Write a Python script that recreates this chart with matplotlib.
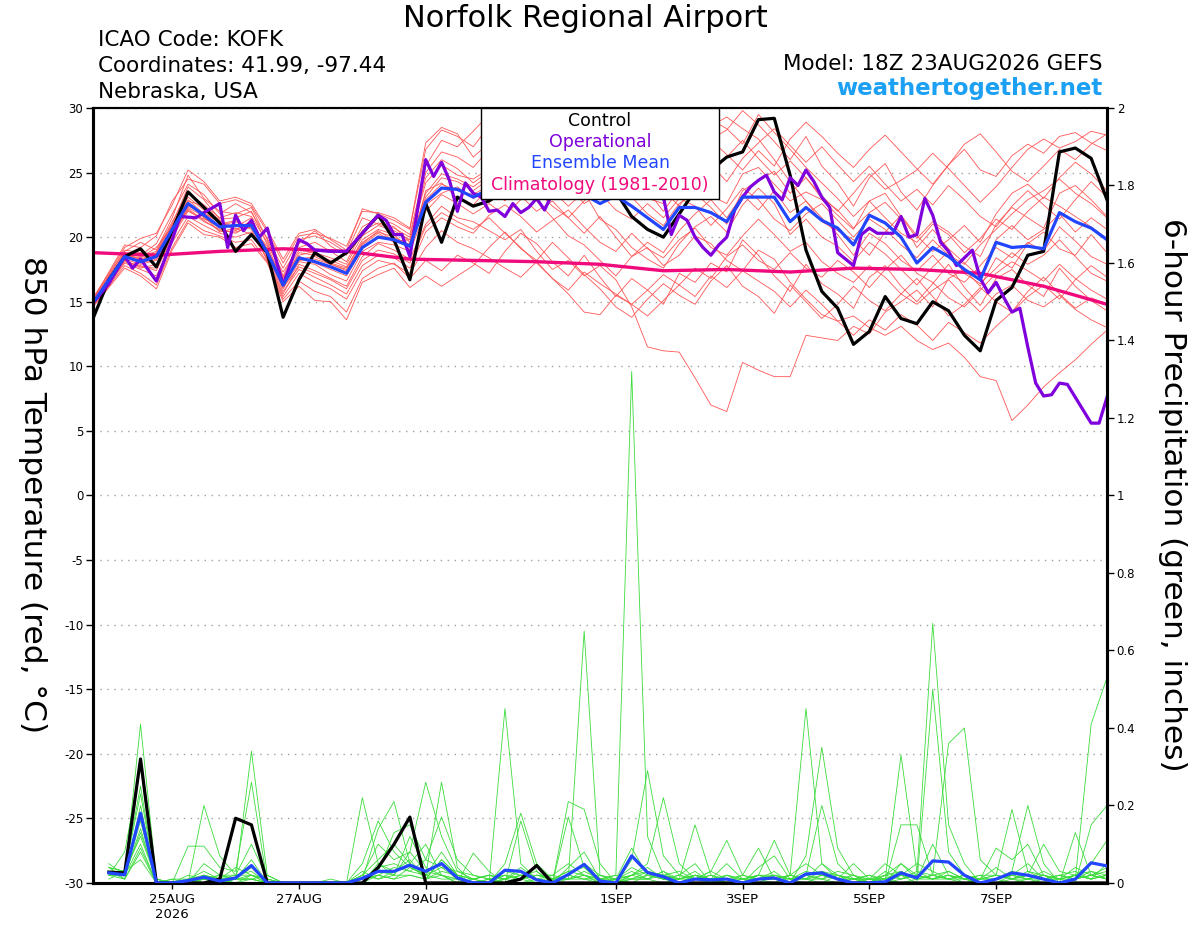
import numpy as np
import pandas as pd
import matplotlib
matplotlib.use("Agg")
import matplotlib.pyplot as plt
from matplotlib.patches import Rectangle
from matplotlib.ticker import FormatStrFormatter

plt.rcParams["font.family"] = ["DejaVu Sans"]
plt.rcParams["axes.unicode_minus"] = False


# --------------------------------------------------
# 1. Time axis: GEFS 18Z 23AUG2026, 6-hourly to 384 h
# --------------------------------------------------
start = pd.Timestamp("2026-08-23 18:00")
times = pd.date_range(start, periods=65, freq="6h")

tick_dates = ["2026-08-25", "2026-08-27", "2026-08-29", "2026-09-01",
              "2026-09-03", "2026-09-05", "2026-09-07"]
tick_labels = ["25AUG\n2026", "27AUG", "29AUG", "1SEP", "3SEP", "5SEP", "7SEP"]


# --------------------------------------------------
# 2. 850 hPa temperature (deg C)
# --------------------------------------------------
control_temp = [
    13.7, 16.7, 18.5, 19.1, 17.7, 20.5, 23.5, 22.3, 21.1, 18.9, 20.2, 18.8,
    13.8, 16.7, 18.8, 18.0, 18.8, 20.3, 21.7, 19.8, 16.7, 22.6, 19.6, 23.1,
    22.4, 22.8, 23.6, 24.2, 24.6, 24.9, 25.3, 24.8, 24.3, 23.5, 21.6, 20.6,
    20.0, 21.8, 23.6, 25.2, 26.2, 26.6, 29.1, 29.2, 24.8, 19.0, 15.8, 14.5,
    11.7, 12.7, 15.4, 13.7, 13.3, 15.0, 14.3, 12.4, 11.2, 15.1, 16.1, 18.6,
    18.9, 26.6, 26.9, 26.1, 22.9]

mean_temp = [
    14.9, 16.7, 18.5, 18.1, 18.5, 20.6, 22.6, 21.7, 20.8, 20.9, 20.9, 18.8,
    16.3, 18.4, 18.1, 17.7, 17.2, 19.2, 20.0, 19.8, 19.3, 22.7, 23.8, 23.7,
    23.1, 23.7, 23.9, 24.2, 24.0, 23.8, 23.5, 23.3, 22.6, 23.2, 22.4, 21.5,
    20.6, 22.3, 22.3, 21.9, 21.2, 23.1, 23.1, 23.1, 21.2, 22.3, 21.3, 20.7,
    19.4, 21.7, 21.1, 20.0, 18.0, 19.2, 18.5, 17.5, 16.7, 19.6, 19.2, 19.3,
    19.1, 21.9, 21.2, 20.7, 19.8]

# operational GFS, 3-hourly where the line shows it
op_hours = [
    0, 6, 12, 15, 18, 24, 30, 33, 39, 42, 48, 51, 54, 57, 60, 63, 66, 72, 78,
    81, 84, 90, 96, 102, 108, 111, 114, 117, 120, 126, 129, 132, 135, 138,
    141, 144, 147, 150, 153, 156, 159, 162, 165, 168, 171, 174, 177, 180,
    183, 186, 189, 192, 195, 198, 201, 204, 207, 210, 213, 216, 219, 222,
    225, 228, 231, 234, 237, 240, 243, 246, 249, 252, 255, 258, 261, 264,
    267, 270, 273, 276, 279, 282, 285, 288, 291, 294, 297, 300, 303, 306,
    309, 312, 315, 318, 321, 324, 327, 330, 333, 336, 339, 342, 345, 348,
    351, 354, 357, 360, 363, 366, 369, 372, 375, 378, 381, 384]
op_temp = [
    14.9, 16.4, 18.5, 17.6, 18.3, 16.6, 19.8, 21.6, 21.5, 21.9, 22.6, 19.2,
    21.7, 20.5, 21.3, 20.0, 20.7, 16.3, 19.8, 19.5, 19.0, 18.9, 18.9, 20.3,
    21.7, 21.3, 20.2, 20.2, 18.5, 26.0, 24.7, 25.8, 24.4, 22.0,
    24.2, 23.4, 23.1, 22.0, 22.1, 21.6, 22.6, 21.9, 22.3, 23.0, 22.1, 23.4,
    24.0, 24.6, 24.1, 24.5, 25.0, 24.6, 24.2, 24.5, 24.0, 23.6, 24.1, 24.5,
    24.0, 23.1, 20.2, 21.7, 21.3, 20.0, 19.2, 18.6, 19.4, 20.0, 22.1, 23.1,
    23.9, 24.4, 24.8, 23.5, 22.9, 24.6, 24.0, 25.2, 24.3, 23.1, 22.3, 18.8,
    18.3, 17.8, 20.2, 20.7, 20.3, 20.3, 20.3, 21.6, 20.0, 20.2, 23.0, 21.7,
    19.6, 18.9, 17.8, 18.4, 19.0, 16.8, 15.7, 16.5, 15.3, 14.2, 14.5, 11.5,
    8.7, 7.7, 7.8, 8.7, 8.6, 7.6, 6.6, 5.6, 5.6, 7.6]

# climatology, one value per day
clim_temp = [18.8, 18.6, 18.9, 19.1, 18.9, 18.3, 18.2, 18.1, 17.9,
             17.4, 17.5, 17.3, 17.6, 17.5, 17.2, 16.2, 14.8]

t01 = [15.2, 17.0, 18.9, 19.6, 19.0, 21.5, 24.8, 23.0, 22.0, 21.8, 22.3, 19.8,
       17.0, 19.5, 20.5, 19.3, 18.6, 20.8, 21.5, 21.0, 20.2, 25.5, 27.5, 27.0,
       28.2, 29.5, 30.4, 29.0, 28.5, 27.3, 28.0, 26.5, 25.8, 26.9, 24.5, 23.0,
       22.6, 24.8, 26.5, 27.6, 28.3, 29.8, 28.7, 27.4, 26.0, 27.8, 25.5, 24.2,
       22.4, 24.6, 25.7, 23.5, 22.1, 24.0, 25.6, 26.8, 25.2, 24.7, 26.3, 27.2,
       26.5, 27.8, 28.1, 27.3, 26.7]
t02 = [14.7, 16.4, 18.1, 17.8, 17.4, 20.0, 22.0, 21.4, 20.9, 21.2, 20.6, 18.2,
       15.6, 17.9, 17.4, 16.8, 16.2, 18.5, 19.5, 19.0, 18.3, 21.0, 22.4, 21.5,
       21.2, 20.5, 19.8, 20.6, 18.9, 17.5, 18.2, 17.0, 17.8, 16.7, 14.6, 11.5,
       11.2, 11.1, 9.1, 7.0, 6.5, 10.3, 9.7, 9.2, 9.2, 12.4, 12.2, 12.0,
       13.1, 12.5, 14.2, 15.0, 15.9, 14.6, 16.8, 17.5, 16.2, 18.4, 17.6, 19.5,
       20.4, 19.1, 18.6, 20.2, 18.8]
t03 = [15.0, 16.9, 18.6, 18.4, 19.2, 20.8, 22.9, 21.8, 21.2, 20.5, 21.3, 19.0,
       16.8, 18.6, 18.9, 18.0, 17.6, 19.8, 20.6, 20.2, 19.0, 23.6, 24.2, 23.0,
       22.5, 23.8, 24.6, 23.2, 22.0, 22.8, 21.5, 20.3, 21.6, 20.0, 18.5, 19.2,
       17.8, 18.6, 20.1, 19.5, 18.2, 17.4, 19.0, 18.3, 16.5, 15.2, 14.0, 13.5,
       13.9, 13.0, 12.4, 13.1, 12.0, 11.3, 11.8, 10.7, 9.2, 8.9, 5.8, 7.0,
       8.4, 9.5, 10.5, 11.7, 12.8]
t04 = [15.1, 16.8, 18.7, 18.5, 18.9, 21.2, 23.4, 22.5, 21.5, 21.9, 21.6, 19.6,
       16.9, 19.0, 18.8, 18.4, 17.9, 20.1, 20.9, 20.5, 19.8, 24.2, 25.6, 24.8,
       24.5, 25.3, 26.1, 25.4, 26.2, 25.0, 24.6, 25.7, 24.1, 23.5, 24.8, 23.6,
       22.0, 23.7, 24.5, 23.2, 22.6, 24.9, 25.4, 24.1, 22.8, 23.5, 22.9, 21.7,
       20.6, 22.8, 23.4, 21.6, 19.9, 21.2, 20.4, 19.3, 18.5, 21.0, 22.3, 21.5,
       20.7, 23.4, 24.0, 22.9, 21.6]
t05 = [14.6, 16.2, 17.8, 17.2, 16.3, 19.2, 21.3, 20.5, 20.1, 19.6, 19.8, 18.1,
       15.2, 16.6, 15.8, 15.4, 14.2, 16.8, 17.6, 18.0, 16.8, 18.2, 17.4, 18.6,
       18.0, 17.2, 18.9, 20.3, 19.5, 18.1, 17.0, 18.6, 16.9, 15.4, 16.8, 15.9,
       14.8, 17.2, 16.5, 18.0, 17.3, 19.8, 18.6, 17.0, 15.8, 17.9, 16.4, 15.6,
       14.5, 16.9, 17.8, 16.2, 15.0, 16.4, 17.9, 16.1, 14.7, 16.8, 17.5, 16.3,
       15.4, 17.6, 16.2, 15.1, 14.3]
t06 = [15.3, 17.2, 19.2, 19.9, 20.3, 22.5, 25.2, 24.3, 22.8, 23.1, 22.6, 20.6,
       18.3, 20.3, 20.6, 19.8, 19.0, 22.2, 21.8, 21.3, 20.6, 26.8, 28.3, 27.8,
       27.0, 28.6, 29.8, 30.5, 29.6, 28.8, 29.4, 28.2, 27.5, 28.8, 27.1, 26.3,
       25.4, 26.8, 27.9, 28.6, 29.3, 28.4, 27.6, 26.0, 24.3, 22.8, 21.2, 20.5,
       19.8, 18.6, 20.4, 21.7, 20.1, 18.9, 19.8, 20.9, 19.6, 21.8, 23.4, 24.1,
       23.0, 24.6, 25.8, 24.9, 23.6]
t07 = [14.8, 16.6, 18.3, 17.9, 18.2, 20.3, 22.1, 21.2, 20.6, 20.3, 21.0, 18.6,
       16.0, 18.1, 17.9, 17.1, 16.6, 18.9, 19.6, 19.4, 18.9, 22.0, 23.3, 22.6,
       21.8, 22.6, 21.7, 22.9, 23.6, 22.4, 21.5, 22.8, 24.0, 25.6, 26.9, 27.8,
       26.4, 25.1, 23.8, 24.9, 26.2, 27.5, 26.1, 24.8, 25.9, 24.6, 23.2, 22.0,
       23.4, 24.9, 23.7, 24.4, 25.2, 26.5, 25.3, 24.0, 22.7, 23.9, 25.4, 26.8,
       27.6, 26.9, 27.4, 28.2, 27.9]
t08 = [14.9, 16.7, 18.4, 18.2, 18.6, 20.4, 22.3, 21.6, 20.4, 20.7, 20.2, 18.4,
       15.8, 17.5, 16.9, 16.3, 15.6, 17.8, 18.6, 18.4, 17.6, 20.4, 21.5, 20.8,
       20.3, 21.7, 22.5, 21.6, 20.4, 21.3, 22.1, 20.8, 19.6, 18.9, 20.3, 19.1,
       18.4, 19.8, 20.7, 19.2, 18.6, 20.1, 21.4, 20.2, 18.9, 19.6, 18.1, 17.2,
       16.5, 17.8, 16.9, 15.6, 14.8, 15.9, 16.7, 15.4, 14.2, 15.6, 16.3, 15.1,
       14.6, 15.5, 14.4, 13.6, 13.0]
t09 = [15.0, 16.8, 18.8, 18.6, 19.5, 21.8, 24.1, 23.3, 21.8, 22.6, 21.9, 19.9,
       17.6, 19.8, 20.1, 19.6, 18.8, 21.5, 21.0, 20.7, 20.0, 25.0, 26.6, 26.2,
       25.4, 26.8, 25.5, 27.4, 26.3, 27.9, 26.6, 25.2, 26.8, 25.4, 23.9, 25.1,
       23.6, 22.4, 24.2, 25.6, 24.3, 26.1, 27.3, 28.4, 27.1, 25.8, 27.0, 25.6,
       24.3, 25.5, 24.1, 22.8, 23.7, 22.5, 24.0, 22.9, 21.6, 20.8, 22.4, 23.6,
       22.5, 21.4, 22.9, 24.3, 23.1]
t10 = [14.8, 16.5, 18.2, 17.6, 17.9, 20.1, 22.4, 21.9, 21.1, 20.8, 21.5, 18.7,
       16.5, 18.2, 18.3, 17.9, 17.4, 19.4, 20.3, 19.6, 19.5, 23.1, 24.6, 24.3,
       23.6, 24.5, 23.2, 24.6, 22.8, 21.5, 20.1, 19.4, 18.2, 17.0, 18.5, 19.6,
       18.8, 20.5, 21.8, 22.9, 21.5, 23.3, 22.1, 23.6, 21.9, 22.8, 21.5, 20.2,
       18.6, 20.3, 19.5, 18.2, 17.4, 18.6, 17.2, 16.5, 17.8, 19.2, 18.4, 19.6,
       18.9, 20.8, 19.7, 18.5, 17.9]
t11 = [14.7, 16.3, 18.0, 17.5, 17.0, 19.6, 21.6, 20.9, 20.3, 20.0, 20.4, 18.3,
       15.4, 17.2, 16.5, 16.0, 15.2, 17.4, 18.2, 17.9, 17.2, 19.2, 20.5, 19.6,
       19.1, 18.4, 17.6, 16.9, 18.1, 16.8, 15.9, 17.3, 16.4, 15.6, 14.8, 15.9,
       17.1, 16.3, 17.6, 16.8, 18.5, 19.4, 18.2, 17.5, 18.8, 17.6, 16.9, 18.2,
       17.3, 16.1, 17.5, 18.6, 17.2, 16.5, 15.3, 14.6, 15.9, 17.2, 18.1, 17.4,
       16.6, 17.9, 16.8, 15.9, 15.2]
t12 = [15.1, 17.1, 19.0, 18.8, 18.7, 21.0, 23.9, 22.9, 21.4, 21.5, 22.0, 19.4,
       17.3, 19.2, 19.6, 18.9, 18.1, 20.5, 21.1, 20.8, 19.6, 24.6, 26.0, 25.3,
       24.2, 25.1, 26.4, 25.8, 27.2, 26.1, 27.4, 26.2, 25.4, 26.6, 25.2, 24.4,
       25.9, 27.4, 28.2, 29.1, 28.4, 27.2, 29.5, 28.1, 26.8, 25.4, 24.2, 23.0,
       21.6, 22.8, 21.5, 20.3, 19.6, 21.0, 20.2, 18.8, 19.9, 21.4, 20.6, 22.0,
       23.1, 22.4, 21.6, 20.8, 19.9]
t13 = [14.9, 16.6, 18.5, 18.0, 18.3, 20.5, 22.7, 21.5, 20.7, 21.0, 20.9, 19.1,
       16.4, 18.5, 18.0, 17.5, 17.0, 19.1, 20.1, 19.9, 19.2, 22.5, 23.4, 23.9,
       23.0, 23.5, 24.2, 23.3, 24.5, 23.6, 22.4, 23.5, 21.4, 20.6, 19.2, 18.3,
       17.6, 19.5, 20.8, 21.6, 20.4, 22.5, 23.8, 22.6, 20.2, 21.4, 20.0, 19.3,
       18.1, 19.6, 18.7, 17.5, 16.3, 17.7, 18.9, 17.2, 16.4, 17.6, 18.8, 17.9,
       18.6, 19.8, 18.5, 17.2, 16.6]
t14 = [15.2, 17.3, 19.4, 19.2, 20.1, 22.8, 24.5, 24.1, 22.6, 22.9, 22.4, 20.4,
       18.0, 20.1, 20.3, 19.9, 19.3, 22.0, 21.9, 21.5, 20.7, 27.3, 28.5, 28.0,
       26.2, 27.3, 28.6, 27.2, 28.9, 29.6, 28.1, 29.2, 28.4, 27.3, 28.6, 27.0,
       26.1, 25.0, 26.3, 27.5, 26.4, 25.2, 26.7, 25.5, 27.6, 28.9, 27.8, 26.5,
       25.4, 26.8, 27.9, 26.6, 25.3, 24.1, 25.6, 27.2, 28.0, 26.6, 25.1, 24.3,
       25.5, 26.8, 26.0, 27.2, 28.0]
t15 = [14.6, 16.1, 17.6, 17.0, 16.0, 19.0, 21.1, 20.2, 20.0, 19.2, 19.5, 18.0,
       15.0, 16.2, 15.1, 15.0, 13.6, 16.5, 17.1, 17.6, 16.1, 17.0, 16.2, 17.0,
       17.8, 19.2, 20.4, 19.1, 18.2, 19.6, 18.4, 17.1, 16.0, 14.6, 13.8, 15.2,
       16.4, 15.5, 14.8, 16.6, 17.8, 16.2, 15.4, 14.1, 16.3, 15.0, 13.7, 14.8,
       16.2, 15.1, 14.3, 15.6, 16.8, 15.4, 13.9, 14.8, 16.1, 15.0, 14.2, 15.8,
       16.9, 15.6, 14.5, 15.3, 14.8]
t16 = [15.0, 16.9, 18.7, 18.3, 18.8, 21.0, 23.1, 22.1, 21.0, 21.3, 20.7, 19.3,
       16.6, 18.8, 18.6, 18.2, 17.7, 19.6, 20.4, 20.0, 19.4, 23.4, 24.9, 24.5,
       23.9, 24.8, 25.6, 26.3, 25.1, 24.2, 25.3, 24.0, 22.9, 24.2, 23.1, 21.8,
       20.9, 22.6, 23.4, 22.3, 21.0, 23.6, 24.4, 25.1, 23.4, 24.6, 23.0, 22.1,
       20.7, 21.9, 22.7, 21.4, 19.2, 20.6, 19.1, 18.0, 16.9, 19.8, 20.9, 19.8,
       20.6, 21.8, 20.4, 21.5, 20.6]
t17 = [14.8, 16.5, 18.2, 17.7, 17.6, 20.2, 22.2, 21.3, 20.5, 20.4, 20.8, 18.5,
       16.1, 17.7, 17.2, 16.7, 16.0, 18.2, 19.0, 18.7, 18.0, 20.8, 21.9, 21.2,
       20.6, 21.5, 20.3, 19.2, 18.0, 16.8, 15.6, 14.2, 14.0, 15.5, 14.8, 13.9,
       15.1, 16.3, 15.4, 17.0, 16.1, 17.4, 16.6, 15.8, 14.6, 15.9, 14.8, 13.5,
       12.4, 13.6, 12.8, 14.0, 13.2, 12.0, 13.4, 12.6, 11.8, 13.1, 14.2, 15.4,
       16.3, 15.2, 16.7, 17.8, 16.9]
t18 = [14.9, 16.8, 18.6, 18.3, 18.4, 20.9, 22.8, 22.4, 21.3, 20.6, 21.2, 18.9,
       16.2, 18.3, 18.5, 17.9, 17.5, 19.5, 20.5, 19.7, 19.8, 22.9, 24.1, 23.6,
       23.3, 24.0, 22.8, 24.4, 23.6, 24.8, 23.9, 22.6, 23.4, 22.1, 21.4, 22.6,
       21.5, 23.0, 22.4, 20.9, 22.2, 23.8, 22.9, 21.4, 20.5, 21.8, 22.6, 21.3,
       20.0, 21.4, 20.6, 19.4, 18.4, 19.8, 18.6, 17.9, 19.4, 20.6, 21.8, 22.9,
       23.6, 24.5, 23.4, 22.6, 21.5]

member_temps = [t01, t02, t03, t04, t05, t06, t07, t08, t09,
                t10, t11, t12, t13, t14, t15, t16, t17, t18]


# --------------------------------------------------
# 3. 6-hour precipitation (inches), from +6 h onwards
# --------------------------------------------------
control_precip = [
    0.028, 0.026, 0.32, 0, 0, 0, 0, 0.01,
    0.167, 0.15, 0, 0, 0, 0, 0, 0,
    0, 0.04, 0.1, 0.17, 0, 0, 0, 0,
    0, 0, 0.01, 0.045, 0, 0, 0, 0,
    0, 0, 0, 0, 0, 0, 0, 0,
    0, 0, 0, 0, 0, 0, 0, 0,
    0, 0, 0, 0, 0, 0, 0, 0,
    0, 0, 0, 0, 0, 0, 0, 0]

mean_precip = [
    0.026, 0.021, 0.18, 0, 0, 0.006, 0.015, 0.005,
    0.013, 0.045, 0, 0, 0, 0, 0, 0,
    0.012, 0.03, 0.03, 0.046, 0.03, 0.05, 0.013, 0,
    0, 0.033, 0.03, 0.008, 0, 0.022, 0.048, 0.005,
    0, 0.07, 0.027, 0.016, 0, 0.01, 0.008, 0.01,
    0, 0.01, 0.013, 0, 0.023, 0.026, 0.01, 0,
    0, 0.003, 0.026, 0.013, 0.057, 0.054, 0.02, 0,
    0.01, 0.026, 0.02, 0.01, 0, 0.01, 0.052, 0.044]

p01 = [.03, .02, .41, .01, 0, 0, .05, .02,
       .01, .34, .02, 0, 0, 0, 0, 0,
       .05, .16, .08, .04, .02, .26, .04, 0,
       0, .45, .05, .01, 0, .04, .08, .01,
       .02, 1.32, .12, .02, 0, .01, 0, .02,
       0, .01, .03, 0, .07, .35, .09, .02,
       0, 0, .05, .02, .67, .15, .05, 0,
       .01, .03, .2, .05, 0, .02, .05, .11]
p02 = [.02, .08, .30, 0, 0, .095, .095, .04,
       .03, .26, 0, 0, 0, 0, 0, 0,
       .22, .05, .02, .12, .04, .02, 0, .077,
       .03, 0, .02, .03, 0, .21, .19, .05,
       0, .06, .29, .07, .02, .05, 0, .01,
       0, .02, .11, .02, .45, .05, .01, 0,
       0, .01, .33, .03, .02, .01, 0, 0,
       0, .02, .01, 0, 0, .13, .02, .01]
p03 = [.04, .03, .25, 0, .01, 0, .2, .07,
       .02, .1, .01, 0, 0, 0, 0, 0,
       .01, .14, .21, .05, .1, .02, .01, 0,
       0, .05, .18, .05, .01, .01, .65, .02,
       0, .02, .05, .22, .05, .01, .03, .11,
       .02, .09, .01, 0, .02, .2, .05, .01,
       .02, 0, .15, .15, .02, .36, .4, .06,
       .02, .19, .03, .01, 0, .01, .41, .53]
p04 = [.03, .01, .2, 0, 0, .02, .01, 0,
       .01, .04, 0, 0, 0, 0, 0, 0,
       0, .03, .13, .15, .06, .17, .06, .02,
       .01, 0, .16, .03, 0, .17, .04, 0,
       .01, .09, .02, .01, .01, .15, .02, 0,
       0, .04, .07, .01, .03, .02, .01, .05,
       .01, .05, .02, 0, .5, .08, .02, .01,
       .09, .06, .1, .02, .01, 0, .15, .2]
p05 = [.02, .02, .17, .01, 0, .01, .03, .01,
       .04, .02, 0, 0, 0, 0, .01, 0,
       .02, .1, .06, .08, .26, .12, .03, .01,
       0, .02, .01, .02, .02, .05, .02, .01,
       .01, .03, .01, .03, 0, .02, .01, .05,
       .01, .01, .02, .01, .02, .03, .02, .01,
       0, .02, .05, .01, .1, .02, .01, .01,
       .04, .01, .02, .1, .03, .02, .01, .05]
p06 = [.05, .02, .14, 0, 0, 0, .01, .02,
       .01, .01, .02, 0, 0, 0, 0, 0,
       0, .05, .03, .05, .01, .06, .02, .01,
       .02, .01, .03, .01, 0, .02, .05, .02,
       .01, .02, .03, .01, .02, .01, .03, .01,
       .02, .01, .01, .02, .01, .05, .02, 0,
       .01, .01, .02, .05, .03, .01, .02, 0,
       .01, .02, .05, .01, .02, .01, .02, .03]
p07 = [.01, .03, .12, .01, 0, 0, .02, .01,
       .02, .03, 0, 0, 0, 0, 0, 0,
       .01, .02, .04, .03, .02, .04, .01, 0,
       .01, .02, .01, .02, .01, .03, .02, 0,
       0, .01, .02, .02, .01, .03, 0, .02,
       .01, .02, .01, .01, .02, .01, .03, .02,
       0, .03, .01, .02, .01, .03, .01, .02,
       .02, .01, .03, .02, .01, .04, .02, .01]
p08 = [.03, .02, .1, 0, 0, 0, 0, .01,
       0, .02, .01, 0, 0, 0, 0, 0,
       .03, .01, .02, .08, .03, .02, 0, .01,
       .02, .01, .02, 0, .01, .01, .03, .01,
       .02, .01, .01, .02, .03, .01, .02, .01,
       .01, .02, .02, .01, .01, .02, .01, .01,
       .02, .01, .03, .01, .02, .01, .02, .01,
       .01, .03, .02, .01, .02, .01, .03, .02]
p09 = [.02, .01, .08, 0, 0, 0, .01, 0,
       .01, .01, 0, 0, 0, 0, 0, 0,
       0, .02, .01, .02, .01, .03, .02, 0,
       0, .01, 0, .01, .02, .01, .01, .02,
       .01, 0, .02, .01, 0, .02, .01, 0,
       .02, .01, 0, .02, .01, 0, .02, .01,
       .01, 0, .01, .02, .01, .02, 0, .01,
       .02, .01, .01, .03, .01, .02, .01, .02]
p10 = [.04, .03, .23, 0, 0, .01, .02, .01,
       .01, .06, 0, 0, 0, 0, 0, 0,
       .02, .06, .1, .05, .02, .08, .02, .01,
       0, .03, .02, .01, 0, .02, .01, 0,
       .01, .04, .02, .01, .01, .02, .01, .01,
       0, .02, .01, .02, .05, .02, .01, .02,
       .01, .02, .03, .01, .02, .03, .01, 0,
       .01, .02, .01, .02, 0, .01, .02, .04]
p11 = [.02, .02, .13, .01, 0, 0, .01, .02,
       .02, .02, .01, 0, 0, 0, 0, 0,
       .01, .04, .05, .03, .06, .04, .03, .02,
       .01, 0, .01, .02, .01, .03, .04, .01,
       0, .02, .04, .01, .02, .01, .02, 0,
       .01, 0, .02, .01, .01, .03, .01, 0,
       .01, .01, .02, .02, .01, .02, .01, .02,
       0, .01, .02, .01, .01, .02, .03, .01]
p12 = [.03, .02, .16, 0, 0, 0, .02, .01,
       .01, .01, 0, 0, 0, 0, 0, 0,
       .02, .01, .03, .06, .01, .06, .02, .01,
       .02, .01, .04, .01, .01, .01, .02, .01,
       .01, .01, .03, .02, .01, .01, .01, .02,
       .01, .02, .01, 0, .02, .01, .02, .01,
       0, .02, .01, .03, .01, .01, .02, .01,
       .01, .02, .01, .01, .02, .03, .01, .02]
p13 = [.02, .03, .06, 0, .01, .01, 0, .01,
       0, .01, 0, 0, 0, 0, 0, 0,
       .01, .03, .02, .02, .01, .02, .01, 0,
       .01, .02, .01, 0, .01, .02, .01, .01,
       0, .01, .01, .03, .01, .02, .01, 0,
       .01, .01, .02, .01, 0, .02, .01, .01,
       .01, .01, 0, .01, .02, .01, .01, 0,
       .01, 0, .01, .02, .01, .01, .02, .01]
p14 = [.04, .01, .09, 0, 0, 0, .01, .01,
       .01, .02, 0, 0, 0, 0, 0, 0,
       .01, .02, .01, .04, .02, .01, .01, 0,
       0, .01, .02, .01, 0, .01, .02, 0,
       .01, .02, .01, 0, .01, .02, 0, .01,
       0, .01, .01, .02, .01, .01, 0, .01,
       .01, 0, .02, .01, .01, .02, .01, .01,
       .02, .01, 0, .01, .01, .02, .01, .02]

member_precips = [p01, p02, p03, p04, p05, p06, p07,
                  p08, p09, p10, p11, p12, p13, p14]


# --------------------------------------------------
# 4. Figure
# --------------------------------------------------
RED = "#ff5555"
GREEN = "#3cdc3c"
PURPLE = "#7f00dc"
BLUE = "#2246ff"
PINK = "#f00a7c"

fig = plt.figure(figsize=(12, 9.27), dpi=100)
ax = fig.add_axes([0.0775, 0.0475, 0.845, 0.836])
ax2 = ax.twinx()

for m in member_temps:
    ax.plot(times, m, color=RED, lw=0.6, zorder=2)

ax.plot(times[::4], clim_temp, color=PINK, lw=2.4, zorder=3)
ax.plot(times, control_temp, color="black", lw=2.3, zorder=4)
op_times = start + pd.to_timedelta(op_hours, unit="h")
ax.plot(op_times, op_temp, color=PURPLE, lw=2.3, zorder=5)
ax.plot(times, mean_temp, color=BLUE, lw=2.3, zorder=6)

for p in member_precips:
    ax2.plot(times[1:], p, color=GREEN, lw=0.6, zorder=2)
ax2.plot(times[1:], control_precip, color="black", lw=2.3, zorder=3)
ax2.plot(times[1:], mean_precip, color=BLUE, lw=2.3, zorder=4)

# axes limits, ticks, grid
ax.set_xlim(times[0], times[-1])
ax.set_ylim(-30, 30)
ax2.set_ylim(0, 2)
ax.set_yticks(np.arange(-30, 31, 5))
ax2.set_yticks(np.arange(0, 2.01, 0.2))
ax2.yaxis.set_major_formatter(FormatStrFormatter("%g"))
ax.set_xticks(pd.to_datetime(tick_dates))
ax.set_xticklabels(tick_labels)

ax.grid(axis="y", linestyle=(0, (1, 4)), color="#a0a0a0", lw=1.0)
ax.set_axisbelow(True)

ax.tick_params(axis="y", direction="out", length=5, width=1, labelsize=8.5, pad=2)
ax.tick_params(axis="x", direction="out", length=4, width=1, labelsize=9.5, pad=3)
ax2.tick_params(axis="y", direction="out", length=5, width=1, labelsize=8.5, pad=2)

for a in (ax, ax2):
    a.spines["left"].set_linewidth(2.2)
    a.spines["right"].set_linewidth(2.2)
    a.spines["bottom"].set_linewidth(2.2)
    a.spines["top"].set_linewidth(1.5)

# legend box, sitting on the top spine
ax2.add_patch(Rectangle((0.3826, 0.8826), 0.2347, 0.1174, transform=ax2.transAxes,
                        facecolor="white", edgecolor="black", lw=1.0, zorder=10,
                        clip_on=False))
legend_items = [("Control", "black", 0.9832),
                ("Operational", PURPLE, 0.9555),
                ("Ensemble Mean", BLUE, 0.9284),
                ("Climatology (1981-2010)", PINK, 0.9006)]
for label, col, yy in legend_items:
    ax2.text(0.5, yy, label, color=col, fontsize=12.5, ha="center", va="center",
             transform=ax2.transAxes, zorder=11)

# axis titles
fig.text(0.027, 0.466, "850 hPa Temperature (red, °C)", rotation=270,
         fontsize=22.5, ha="center", va="center")
fig.text(0.977, 0.466, "6-hour Precipitation (green, inches)", rotation=270,
         fontsize=22.5, ha="center", va="center")

# header
fig.text(0.488, 0.980, "Norfolk Regional Airport", fontsize=22, ha="center", va="center")
fig.text(0.0817, 0.957, "ICAO Code: KOFK", fontsize=15.5, ha="left", va="center")
fig.text(0.0817, 0.929, "Coordinates: 41.99, -97.44", fontsize=15.5, ha="left", va="center")
fig.text(0.0817, 0.901, "Nebraska, USA", fontsize=15.5, ha="left", va="center")
fig.text(0.919, 0.931, "Model: 18Z 23AUG2026 GEFS", fontsize=15.5, ha="right", va="center")
fig.text(0.919, 0.904, "weathertogether.net", fontsize=16.5, fontweight="bold",
         color="#1ca0f4", ha="right", va="center")

fig.savefig("out.png", dpi=100)
